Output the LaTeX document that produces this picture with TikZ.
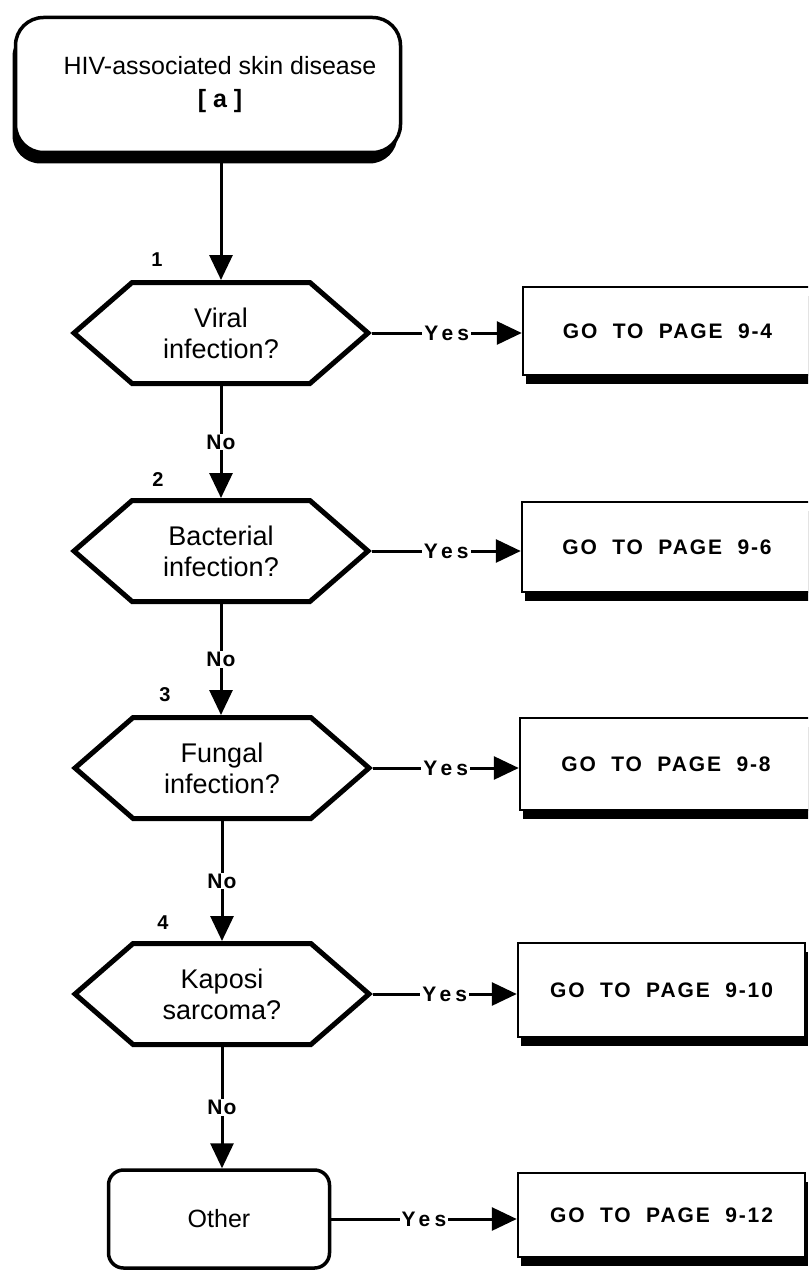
\documentclass[tikz,border=0pt]{standalone}
\usepackage{fontspec}
\setmainfont{Liberation Sans}
\newfontfamily\gofont{Liberation Sans}[LetterSpace=9,WordSpace=2]
\newfontfamily\yesfont{Liberation Sans}[LetterSpace=20]
\newfontfamily\nofont{Liberation Sans}[LetterSpace=5]
\usetikzlibrary{arrows.meta,shapes.symbols,shadows}

\tikzset{
  conn/.style={line width=3pt, -{Triangle[width=23pt,length=25pt]}},
  startbox/.style={rectangle, rounded corners=28pt, draw, line width=3.5pt, fill=white,
    minimum width=385pt, minimum height=135pt, align=center,
    font=\fontsize{25}{33}\selectfont,
    drop shadow={shadow xshift=-3pt, shadow yshift=-11pt, opacity=1, fill=black}},
  hexbox/.style={signal, signal to=east and west, signal pointer angle=82, draw,
    line width=5pt, fill=white, minimum width=294pt, minimum height=101pt,
    inner sep=0pt, align=center, font=\fontsize{27}{31}\selectfont},
  endbox/.style={rectangle, rounded corners=15pt, draw, line width=3.5pt, fill=white,
    minimum width=221pt, minimum height=98pt, font=\fontsize{25}{30}\selectfont},
  gobox/.style={rectangle, draw, line width=2.5pt, fill=white, inner sep=0pt,
    font=\gofont\bfseries\fontsize{21}{25}\selectfont,
    drop shadow={shadow xshift=3pt, shadow yshift=-9pt, opacity=1, fill=black}},
  yes/.style={fill=white, inner xsep=2pt, inner ysep=0pt, font=\yesfont\bfseries\fontsize{21}{25}\selectfont},
  no/.style={fill=white, inner xsep=2pt, inner ysep=1pt, font=\nofont\bfseries\fontsize{21}{25}\selectfont},
  num/.style={inner sep=0pt, font=\bfseries\fontsize{20}{24}\selectfont},
}

\begin{document}
\begin{tikzpicture}[x=1pt, y=-1pt]
\useasboundingbox (0,0) rectangle (808,1273);
\clip (0,0) rectangle (808,1273);
\fill[white] (0,0) rectangle (808,1273);

% entry box (its text sits a little right of the box centre)
\node[startbox] (start) at (208,85)
  {\hspace*{24pt}HIV-associated skin disease\\\hspace*{24pt}\textbf{[ a ]}};

% decision hexagons
\node[hexbox] (h1) at (221,333) {Viral\\infection?};
\node[hexbox] (h2) at (221,551) {Bacterial\\infection?};
\node[hexbox] (h3) at (222,768) {Fungal\\infection?};
\node[hexbox] (h4) at (222,994) {Kaposi\\sarcoma?};
\node[endbox] (other) at (219,1219) {Other};

% step numbers
\node[num] (n1) at (157,260) {1};
\node[num] (n2) at (158,480) {2};
\node[num] (n3) at (165,695) {3};
\node[num] (n4) at (163,923) {4};

% referral boxes
\node[gobox, minimum width=289pt, minimum height=88pt] (b1) at (667.5,331) {GO TO PAGE 9-4};
\node[gobox, minimum width=290pt, minimum height=90pt] (b2) at (667,547) {GO TO PAGE 9-6};
\node[gobox, minimum width=292pt, minimum height=92pt] (b3) at (666,764) {GO TO PAGE 9-8};
\node[gobox, minimum width=287pt, minimum height=94pt] (b4) at (661.5,990) {GO TO PAGE 9-10};
\node[gobox, minimum width=287pt, minimum height=84pt] (b5) at (661.5,1215) {GO TO PAGE 9-12};

% main column
\draw[conn] (h1.north |- start.south) -- (h1.north);
\draw[conn] (h1.south) -- node[no] {No} (h2.north);
\draw[conn] (h2.south) -- node[no] {No} (h2.south |- h3.north);
\draw[conn] (h3.south) -- node[no] {No} (h4.north);
\draw[conn] (h4.south) -- node[no] {No} (h4.south |- other.north);

% yes branches
\draw[conn] (h1.east) -- node[yes] {Yes} (h1.east -| b1.west);
\draw[conn] (h2.east) -- node[yes] {Yes} (h2.east -| b2.west);
\draw[conn] (h3.east) -- node[yes] {Yes} (h3.east -| b3.west);
\draw[conn] (h4.east) -- node[yes] {Yes} (h4.east -| b4.west);
\draw[conn] (other.east) -- node[yes] {Yes} (other.east -| b5.west);
\end{tikzpicture}
\end{document}
